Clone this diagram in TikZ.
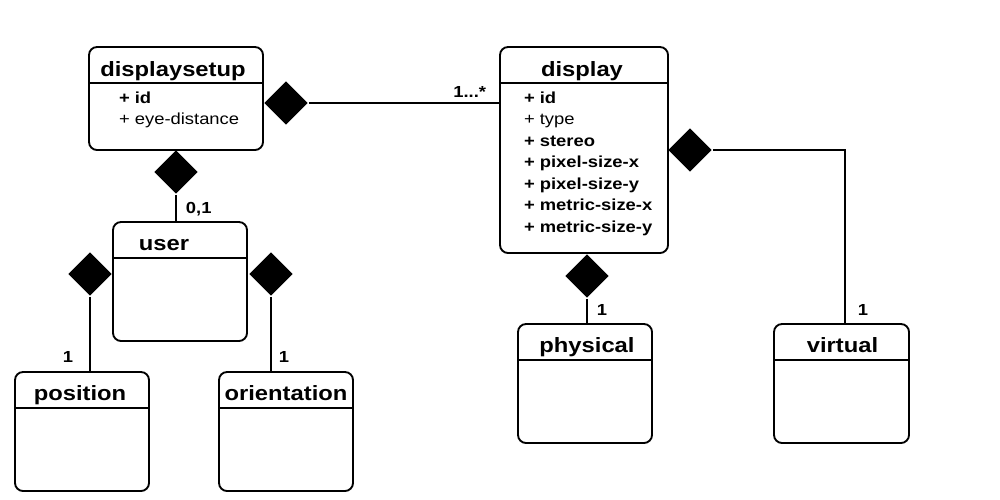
\documentclass[tikz,border=0pt]{standalone}
\usepackage{fontspec}
\setmainfont[FakeStretch=1.15]{Liberation Sans}
\usetikzlibrary{calc,shapes.geometric}

\begin{document}
\begin{tikzpicture}[x=0.75pt,y=-0.75pt,line width=1.4pt,
    class/.style={draw,rounded corners=6pt,inner sep=0pt,minimum width=100.5pt,minimum height=89.25pt},
    title/.style={font=\fontsize{15.5}{17}\selectfont\bfseries,anchor=base,inner sep=0pt},
    attr/.style={font=\fontsize{12}{14}\selectfont,anchor=base west,inner sep=0pt},
    mult/.style={font=\fontsize{12}{14}\selectfont\bfseries,anchor=base west,inner sep=0pt},
    comp/.style={diamond,fill=black,draw=none,inner sep=0pt,minimum size=33pt}]

    \useasboundingbox (0,0) rectangle (1000,500);

    % classes
    \node[class,minimum width=130.5pt,minimum height=77.25pt] (displaysetup) at (176,98.5) {};
    \node[class,minimum width=126pt,minimum height=154.5pt] (display) at (584,150) {};
    \node[class] (user) at (180,281.5) {};
    \node[class] (position) at (82,431.5) {};
    \node[class] (orientation) at (286,431.5) {};
    \node[class] (physical) at (585,383.5) {};
    \node[class,minimum width=101.25pt] (virtual) at (841.5,383.5) {};

    % header lines
    \foreach \c in {displaysetup,display,user,position,orientation,physical,virtual}
      \draw ($(\c.north west)+(0,37)$) -- ($(\c.north east)+(0,37)$);

    \node[title] (displaysetupT) at ($(displaysetup.north)+(-3,30)$) {displaysetup};
    \node[title] (displayT) at ($(display.north)+(-2,30)$) {display};
    \node[title] (userT) at ($(user.north)+(-16,29)$) {user};
    \node[title] (positionT) at ($(position.north)+(-2,29)$) {position};
    \node[title] (orientationT) at ($(orientation.north)+(0,29)$) {orientation};
    \node[title] (physicalT) at ($(physical.north)+(2,29)$) {physical};
    \node[title] (virtualT) at ($(virtual.north)+(1,29)$) {virtual};

    % attributes
    \foreach \a/\txt in {1/{\bfseries + id},2/{+ eye-distance}}
      \node[attr] (dsattr\a) at ($(displaysetup.north west)+(30,{57+21.5*(\a-1)})$) {\txt};
    \foreach \a/\txt in {1/{\bfseries + id},2/{+ type},3/{\bfseries + stereo},
        4/{\bfseries + pixel-size-x},5/{\bfseries + pixel-size-y},
        6/{\bfseries + metric-size-x},7/{\bfseries + metric-size-y}}
      \node[attr] (dattr\a) at ($(display.north west)+(24,{57+21.5*(\a-1)})$) {\txt};

    % compositions
    \node[comp] (dsright) at (286,103) {};
    \draw (dsright.east) -- (dsright.east -| display.west);
    \node[mult,anchor=base east] (mdisplay) at (487,97) {1...*};

    \node[comp] (dsbottom) at (176,172) {};
    \draw (dsbottom.south) -- (dsbottom.south |- user.north);
    \node[mult] (muser) at (185,213) {0,1};

    \node[comp] (userleft) at (90,274) {};
    \draw (userleft.south) -- (userleft.south |- position.north);
    \node[mult] (mposition) at (62,362) {1};

    \node[comp] (userright) at (271,274) {};
    \draw (userright.south) -- (userright.south |- orientation.north);
    \node[mult] (morientation) at (278,362) {1};

    \node[comp] (dbottom) at (587,276) {};
    \draw (dbottom.south) -- (dbottom.south |- physical.north);
    \node[mult] (mphysical) at (596,315) {1};

    \node[comp] (dright) at (690,150) {};
    \coordinate (vcorner) at (845,150);
    \draw (dright.east) -- (vcorner) -- (vcorner |- virtual.north);
    \node[mult] (mvirtual) at (857,315) {1};
\end{tikzpicture}
\end{document}
